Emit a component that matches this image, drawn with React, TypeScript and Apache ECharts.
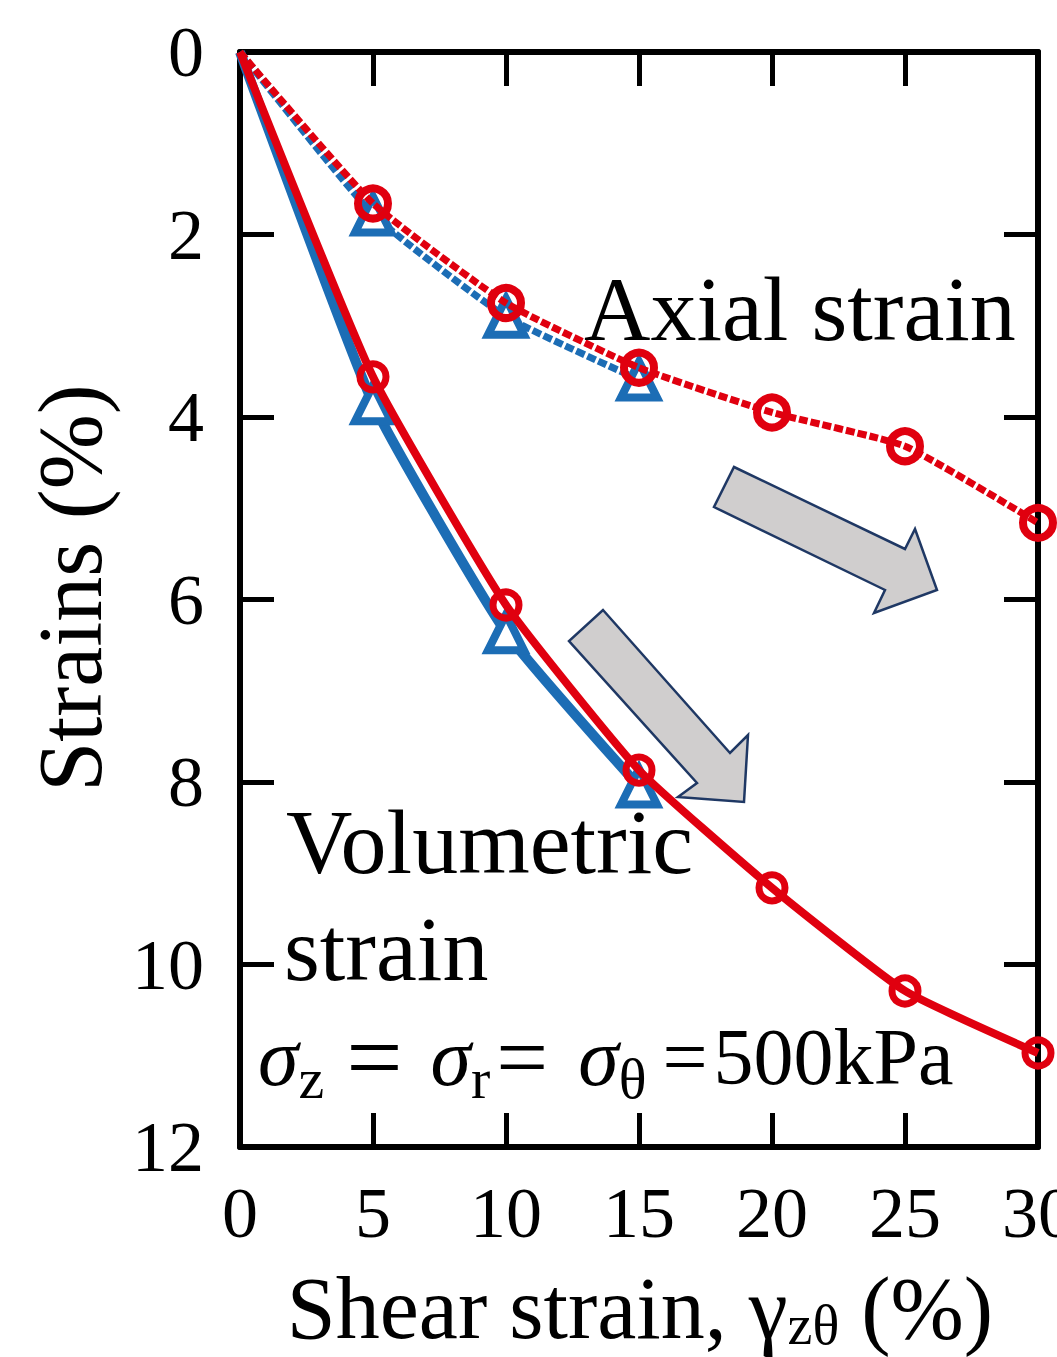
import React, { useEffect, useRef } from "react";
import * as echarts from "echarts";

// Shear strain (%) at which each marker sits
const shearRed = [0, 5, 10, 15, 20, 25, 30];
const shearBlue = [0, 5, 10, 15];

// Axial and volumetric strain (%) – red circles series
const axialRed = [0, 1.66, 2.75, 3.46, 3.95, 4.32, 5.16];
const volRed = [0, 3.56, 6.06, 7.87, 9.16, 10.29, 10.97];

// Axial and volumetric strain (%) – blue triangles series
const axialBlue = [0, 1.78, 2.9, 3.59];
const volBlue = [0, 3.85, 6.36, 8.05];

const xTicks = [0, 5, 10, 15, 20, 25, 30];
const yTicks = [0, 2, 4, 6, 8, 10, 12];

const RED = "#e0000f";
const BLUE = "#1c6db5";
const SERIF = '"Times New Roman", "Liberation Serif", "DejaVu Serif", serif';

const toPairs = (xs: number[], ys: number[]) =>
  xs.map((x, i) =>
    i === 0 ? { value: [x, ys[i]], symbol: "none" } : { value: [x, ys[i]] }
  );

export default function App() {
  const ref = useRef<HTMLDivElement>(null);

  useEffect(() => {
    if (!ref.current) return;
    const chart = echarts.init(ref.current, null, { renderer: "svg" });

    const gridLeft = 240;
    const gridTop = 52;
    const gridW = 798;
    const gridH = 1095;

    const frameLine = { show: true, onZero: false, lineStyle: { color: "#000", width: 6 } };
    const innerTick = { show: true, inside: true, length: 34, lineStyle: { color: "#000", width: 5 } };

    const arrowStyle = { fill: "#d0cece", stroke: "#1f3864", lineWidth: 2.5 };

    const tickFont = { fontSize: 72, fontFamily: SERIF, color: "#000" };

    chart.setOption({
      animation: false,
      backgroundColor: "#fff",
      grid: {
        left: gridLeft,
        top: gridTop,
        width: gridW,
        height: gridH,
        containLabel: false,
        outerBoundsMode: "none",
      },
      xAxis: [
        {
          type: "value",
          min: xTicks[0],
          max: xTicks[xTicks.length - 1],
          interval: 5,
          position: "bottom",
          axisLine: frameLine,
          axisTick: innerTick,
          splitLine: { show: false },
          axisLabel: { show: true, margin: 30, showMinLabel: true, showMaxLabel: true, hideOverlap: false, ...tickFont },
        },
        {
          type: "value",
          min: xTicks[0],
          max: xTicks[xTicks.length - 1],
          interval: 5,
          position: "top",
          axisLine: frameLine,
          axisTick: innerTick,
          splitLine: { show: false },
          axisLabel: { show: false },
        },
      ],
      yAxis: [
        {
          type: "value",
          inverse: true,
          min: yTicks[0],
          max: yTicks[yTicks.length - 1],
          interval: 2,
          position: "left",
          axisLine: frameLine,
          axisTick: innerTick,
          splitLine: { show: false },
          axisLabel: { show: true, margin: 36, showMinLabel: true, showMaxLabel: true, ...tickFont },
        },
        {
          type: "value",
          inverse: true,
          min: yTicks[0],
          max: yTicks[yTicks.length - 1],
          interval: 2,
          position: "right",
          axisLine: frameLine,
          axisTick: innerTick,
          splitLine: { show: false },
          axisLabel: { show: false },
        },
      ],
      series: [
        {
          name: "Axial strain (triangles)",
          type: "line",
          data: toPairs(shearBlue, axialBlue),
          smooth: 0.15,
          symbol: "triangle",
          symbolSize: 36,
          lineStyle: { color: BLUE, width: 7, type: [9, 3] },
          itemStyle: { color: "#fff", borderColor: BLUE, borderWidth: 8 },
          z: 3,
        },
        {
          name: "Axial strain (circles)",
          type: "line",
          data: toPairs(shearRed, axialRed),
          smooth: 0.15,
          symbol: "circle",
          symbolSize: 30,
          lineStyle: { color: RED, width: 7, type: [9, 3] },
          itemStyle: { color: "rgba(0,0,0,0)", borderColor: RED, borderWidth: 8 },
          z: 4,
        },
        {
          name: "Volumetric strain (triangles)",
          type: "line",
          data: toPairs(shearBlue, volBlue),
          smooth: 0.15,
          symbol: "triangle",
          symbolSize: 36,
          lineStyle: { color: BLUE, width: 10 },
          itemStyle: { color: "#fff", borderColor: BLUE, borderWidth: 8 },
          z: 3,
        },
        {
          name: "Volumetric strain (circles)",
          type: "line",
          data: toPairs(shearRed, volRed),
          smooth: 0.15,
          symbol: "circle",
          symbolSize: 26,
          lineStyle: { color: RED, width: 8 },
          itemStyle: { color: "rgba(0,0,0,0)", borderColor: RED, borderWidth: 7 },
          z: 4,
        },
      ],
      graphic: [
        // trend arrows
        {
          type: "polygon",
          z: 10,
          shape: {
            points: [
              [734, 467], [905, 549], [915, 529], [937, 590],
              [874, 613], [885, 590], [714, 507],
            ],
          },
          style: arrowStyle,
        },
        {
          type: "polygon",
          z: 10,
          shape: {
            points: [
              [603, 610], [730, 753], [748, 735], [744, 802],
              [678, 797], [697, 783], [569, 641],
            ],
          },
          style: arrowStyle,
        },
        // curve labels
        {
          type: "text",
          x: 584,
          y: 309,
          z: 20,
          style: { text: "Axial strain", fontSize: 92, fontFamily: SERIF, fill: "#000", align: "left", verticalAlign: "middle" },
        },
        {
          type: "text",
          x: 286,
          y: 842,
          z: 20,
          style: { text: "Volumetric", fontSize: 92, fontFamily: SERIF, fill: "#000", align: "left", verticalAlign: "middle" },
        },
        {
          type: "text",
          x: 284,
          y: 949,
          z: 20,
          style: { text: "strain", fontSize: 92, fontFamily: SERIF, fill: "#000", align: "left", verticalAlign: "middle" },
        },
        // loading condition
        {
          type: "text",
          x: 258,
          y: 1057,
          z: 20,
          style: {
            text: "{s|σ}{sub|z}{eqA|=}{s|σ}{sub|r}{eqB|=}{s|σ}{sub|θ}{eqC|=}{n|500kPa}",
            fontFamily: SERIF,
            fontSize: 78,
            fill: "#000",
            align: "left",
            verticalAlign: "middle",
            rich: {
              s: { fontFamily: SERIF, fontStyle: "italic", fontSize: 82, lineHeight: 100, fill: "#000" },
              n: { fontFamily: SERIF, fontSize: 80, lineHeight: 100, fill: "#000" },
              eqA: { fontFamily: SERIF, fontSize: 100, lineHeight: 100, fill: "#000", padding: [0, 28, 0, 22] },
              eqB: { fontFamily: SERIF, fontSize: 92, lineHeight: 100, fill: "#000", padding: [0, 30, 0, 6] },
              eqC: { fontFamily: SERIF, fontSize: 80, lineHeight: 100, fill: "#000", padding: [0, 6, 0, 16] },
              sub: { fontFamily: SERIF, fontSize: 58, lineHeight: 58, verticalAlign: "bottom", fill: "#000" },
            },
          },
        },
        // axis titles
        {
          type: "text",
          x: 640,
          y: 1308,
          z: 20,
          style: {
            text: "{n|Shear strain, γ}{sub|zθ}{n| (%)}",
            fontFamily: SERIF,
            fontSize: 88,
            fill: "#000",
            align: "center",
            verticalAlign: "middle",
            rich: {
              n: { fontFamily: SERIF, fontSize: 88, lineHeight: 90, fill: "#000" },
              sub: { fontFamily: SERIF, fontSize: 56, lineHeight: 48, verticalAlign: "bottom", fill: "#000" },
            },
          },
        },
        {
          type: "text",
          x: 70,
          y: 588,
          rotation: Math.PI / 2,
          z: 20,
          style: { text: "Strains (%)", fontSize: 90, fontFamily: SERIF, fill: "#000", align: "center", verticalAlign: "middle" },
        },
      ],
    });

    return () => chart.dispose();
  }, []);

  return (
    <div
      ref={ref}
      style={{ position: "absolute", left: 0, top: 0, width: 1057, height: 1357, background: "#fff" }}
    />
  );
}
